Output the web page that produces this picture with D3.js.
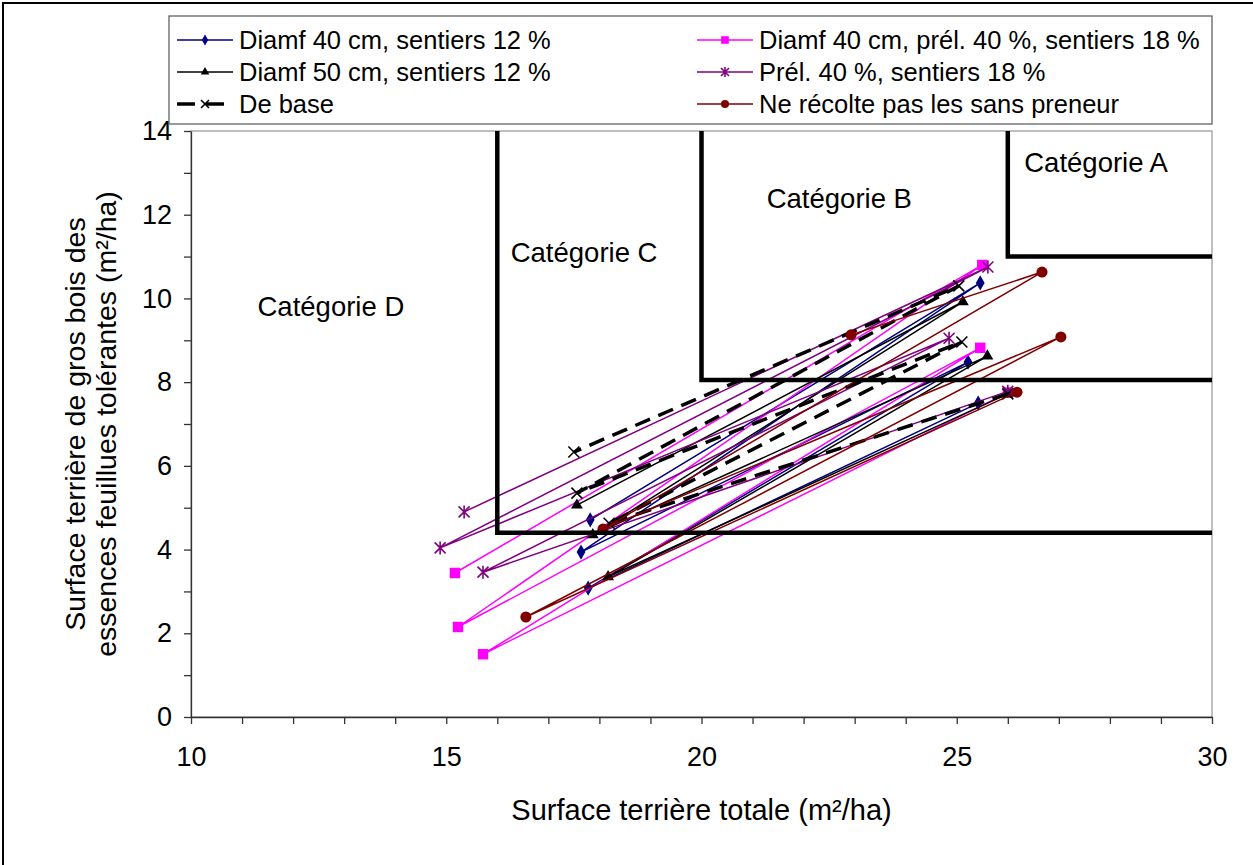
<!DOCTYPE html>
<html>
<head>
<meta charset="utf-8">
<script src="https://cdn.jsdelivr.net/npm/d3@7"></script>
<style>
body { margin:0; background:#fff; }
text { font-family:"Liberation Sans", Arial, sans-serif; fill:#000; }
</style>
</head>
<body>
<svg id="chart"></svg>
<script>
// axis ticks
var xTickLabels = [10, 15, 20, 25, 30];
var yTickLabels = [0, 2, 4, 6, 8, 10, 12, 14];

var seriesNames = ["Diamf 40 cm, sentiers 12 %", "Diamf 40 cm, prél. 40 %, sentiers 18 %",
                   "Diamf 50 cm, sentiers 12 %", "Prél. 40 %, sentiers 18 %",
                   "De base", "Ne récolte pas les sans preneur"];

// each series: initial stand -> after cut -> before cut -> after cut ...
var diam40X = [25.42, 17.78, 25.22, 17.64, 25.46, 17.82];
var diam40Y = [7.50, 3.08, 8.48, 3.94, 10.37, 4.71];
var diam40PrelX = [26.0, 15.72, 25.46, 15.23, 25.50, 15.17];
var diam40PrelY = [7.75, 1.50, 8.82, 2.15, 10.80, 3.44];
var diam50X = [26.0, 18.17, 25.60, 17.87, 25.12, 17.56];
var diam50Y = [7.72, 3.35, 8.62, 4.35, 9.92, 5.06];
var prelX = [26.0, 15.72, 24.85, 14.88, 25.61, 15.35];
var prelY = [7.78, 3.46, 9.05, 4.04, 10.75, 4.90];
var baseX = [26.0, 18.19, 25.10, 17.56, 25.04, 17.50];
var baseY = [7.72, 4.63, 8.96, 5.35, 10.30, 6.33];
var sansPreneurX = [26.18, 16.56, 27.04, 18.07, 26.67, 22.93];
var sansPreneurY = [7.76, 2.39, 9.08, 4.49, 10.63, 9.13];

// category zones (lower-left corner of each zone)
var categoryNames = ["Catégorie A", "Catégorie B", "Catégorie C", "Catégorie D"];
var categoryMinX = [26, 20, 16];
var categoryMinY = [11, 8.05, 4.4];

var screen = {width:1253, height:865};
var margins = {top:131, bottom:148, left:191, right:41};
var graph = {
    width:screen.width-margins.left-margins.right,
    height:screen.height-margins.top-margins.bottom
};

var series = [
    {name:seriesNames[0], xs:diam40X, ys:diam40Y, color:"#000080", symbol:"diamond", width:1.5},
    {name:seriesNames[1], xs:diam40PrelX, ys:diam40PrelY, color:"#FF00FF", symbol:"square", width:1.5},
    {name:seriesNames[2], xs:diam50X, ys:diam50Y, color:"#000000", symbol:"triangle", width:1.5},
    {name:seriesNames[3], xs:prelX, ys:prelY, color:"#800080", symbol:"star", width:1.5},
    {name:seriesNames[4], xs:baseX, ys:baseY, color:"#000000", symbol:"x", width:3.5, dash:"16,9"},
    {name:seriesNames[5], xs:sansPreneurX, ys:sansPreneurY, color:"#800000", symbol:"circle", width:1.5}
];

var svg = d3.select("#chart")
    .attr("width", screen.width)
    .attr("height", screen.height);

svg.append("rect").attr("width", screen.width).attr("height", screen.height).attr("fill", "#fff");
// outer chart border (only left/top fall inside the picture)
svg.append("rect")
    .attr("x", 3).attr("y", 3)
    .attr("width", screen.width + 20).attr("height", screen.height + 20)
    .attr("fill", "none").attr("stroke", "#000").attr("stroke-width", 2);

var xScale = d3.scaleLinear().domain([10, 30]).range([0, graph.width]);
var yScale = d3.scaleLinear().domain([0, 14]).range([graph.height, 0]);

var g = svg.append("g")
    .classed("graph", true)
    .attr("transform", "translate(" + margins.left + "," + margins.top + ")");

// plot area border
g.append("rect")
    .attr("x", 0).attr("y", 0)
    .attr("width", graph.width).attr("height", graph.height)
    .attr("fill", "none").attr("stroke", "#808080").attr("stroke-width", 1);

var drawMarker = function(sel, type, cx, cy, color, s)
{
    var m;
    if (type == "diamond") {
        m = sel.append("path").attr("d", d3.symbol(d3.symbolDiamond, s * s * 0.55)());
    } else if (type == "square") {
        m = sel.append("path").attr("d", d3.symbol(d3.symbolSquare, s * s * 0.9)());
    } else if (type == "triangle") {
        m = sel.append("path").attr("d", d3.symbol(d3.symbolTriangle, s * s * 0.5)());
    } else if (type == "circle") {
        m = sel.append("path").attr("d", d3.symbol(d3.symbolCircle, s * s * 0.8)());
    } else if (type == "x") {
        var h = s / 2;
        m = sel.append("path")
            .attr("d", "M" + (-h) + "," + (-h) + "L" + h + "," + h + "M" + (-h) + "," + h + "L" + h + "," + (-h))
            .attr("fill", "none").attr("stroke", color).attr("stroke-width", 1.6);
    } else if (type == "star") {
        var h2 = s / 2;
        m = sel.append("path")
            .attr("d", "M" + (-h2) + "," + (-h2) + "L" + h2 + "," + h2 + "M" + (-h2) + "," + h2 + "L" + h2 + "," + (-h2) +
                       "M0," + (-h2 - 1) + "L0," + (h2 + 1))
            .attr("fill", "none").attr("stroke", color).attr("stroke-width", 1.6);
    }
    if (type != "x" && type != "star") { m.attr("fill", color); }
    m.attr("transform", "translate(" + cx + "," + cy + ")");
    return m;
}

// series lines and markers
var line = d3.line()
    .x(function(d){ return xScale(d[0]); })
    .y(function(d){ return yScale(d[1]); });

series.forEach(function(s)
{
    var pts = s.xs.map(function(x, i){ return [x, s.ys[i]]; });
    var sg = g.append("g").classed("series", true);
    sg.append("path")
        .datum(pts)
        .attr("d", line)
        .attr("fill", "none")
        .attr("stroke", s.color)
        .attr("stroke-width", s.width)
        .attr("stroke-dasharray", s.dash ? s.dash : null);
    pts.forEach(function(p)
    {
        drawMarker(sg, s.symbol, xScale(p[0]), yScale(p[1]), s.color, 11);
    });
});

// category boundaries
categoryMinX.forEach(function(cx, i)
{
    g.append("path")
        .attr("d", "M" + xScale(cx) + "," + yScale(14) + "V" + yScale(categoryMinY[i]) + "H" + xScale(30))
        .attr("fill", "none")
        .attr("stroke", "#000")
        .attr("stroke-width", 4.5);
});

var catLabelPos = [[27.73, 13.25], [22.7, 12.4], [17.7, 11.1], [12.74, 9.8]];
categoryNames.forEach(function(name, i)
{
    g.append("text")
        .text(name)
        .attr("x", xScale(catLabelPos[i][0]))
        .attr("y", yScale(catLabelPos[i][1]))
        .attr("dy", "0.35em")
        .attr("text-anchor", "middle")
        .style("font-size", "27.5px");
});

// axes
var xAxis = d3.axisBottom(xScale)
    .tickValues(d3.range(10, 31, 1))
    .tickSize(7).tickSizeOuter(0).tickPadding(23)
    .tickFormat(function(d){ return xTickLabels.indexOf(d) >= 0 ? d : ""; });
var yAxis = d3.axisLeft(yScale)
    .tickValues(d3.range(0, 15, 1))
    .tickSize(7).tickSizeOuter(0).tickPadding(12)
    .tickFormat(function(d){ return yTickLabels.indexOf(d) >= 0 ? d : ""; });

var xg = g.append("g")
    .attr("transform", "translate(0," + graph.height + ")")
    .call(xAxis);
var yg = g.append("g").call(yAxis);
[xg, yg].forEach(function(a)
{
    a.selectAll("path, line").attr("stroke", "#333").attr("stroke-width", 1.3);
    a.selectAll("text").style("font-size", "27px").style("font-family", "Liberation Sans, Arial, sans-serif").attr("fill", "#000");
});

// axis titles
svg.append("text")
    .text("Surface terrière totale (m²/ha)")
    .attr("x", margins.left + graph.width / 2)
    .attr("y", 820)
    .attr("text-anchor", "middle")
    .style("font-size", "29px");

var yt = svg.append("g")
    .attr("transform", "translate(0," + (margins.top + graph.height / 2) + ") rotate(-90)");
yt.append("text")
    .text("Surface terrière de gros bois des")
    .attr("x", 0).attr("y", 85)
    .attr("text-anchor", "middle")
    .style("font-size", "28.5px");
yt.append("text")
    .text("essences feuillues tolérantes (m²/ha)")
    .attr("x", 0).attr("y", 116)
    .attr("text-anchor", "middle")
    .style("font-size", "28.5px");

// legend
var legend = svg.append("g").classed("legend", true);
legend.append("rect")
    .attr("x", 169).attr("y", 16)
    .attr("width", 1212 - 169).attr("height", 108)
    .attr("fill", "#fff").attr("stroke", "#555").attr("stroke-width", 1.2);

series.forEach(function(s, i)
{
    var col = i % 2;
    var row = Math.floor(i / 2);
    var x0 = col == 0 ? 177 : 697;
    var y0 = 40 + row * 32;
    var lg = legend.append("g");
    lg.append("line")
        .attr("x1", x0).attr("x2", x0 + 56)
        .attr("y1", y0).attr("y2", y0)
        .attr("stroke", s.color)
        .attr("stroke-width", s.width)
        .attr("stroke-dasharray", s.dash ? "18,11" : null);
    drawMarker(lg, s.symbol, x0 + 28, y0, s.color, 8);
    lg.append("text")
        .text(s.name)
        .attr("x", x0 + 62)
        .attr("y", y0)
        .attr("dy", "0.35em")
        .style("font-size", "25.5px");
});
</script>
</body>
</html>
